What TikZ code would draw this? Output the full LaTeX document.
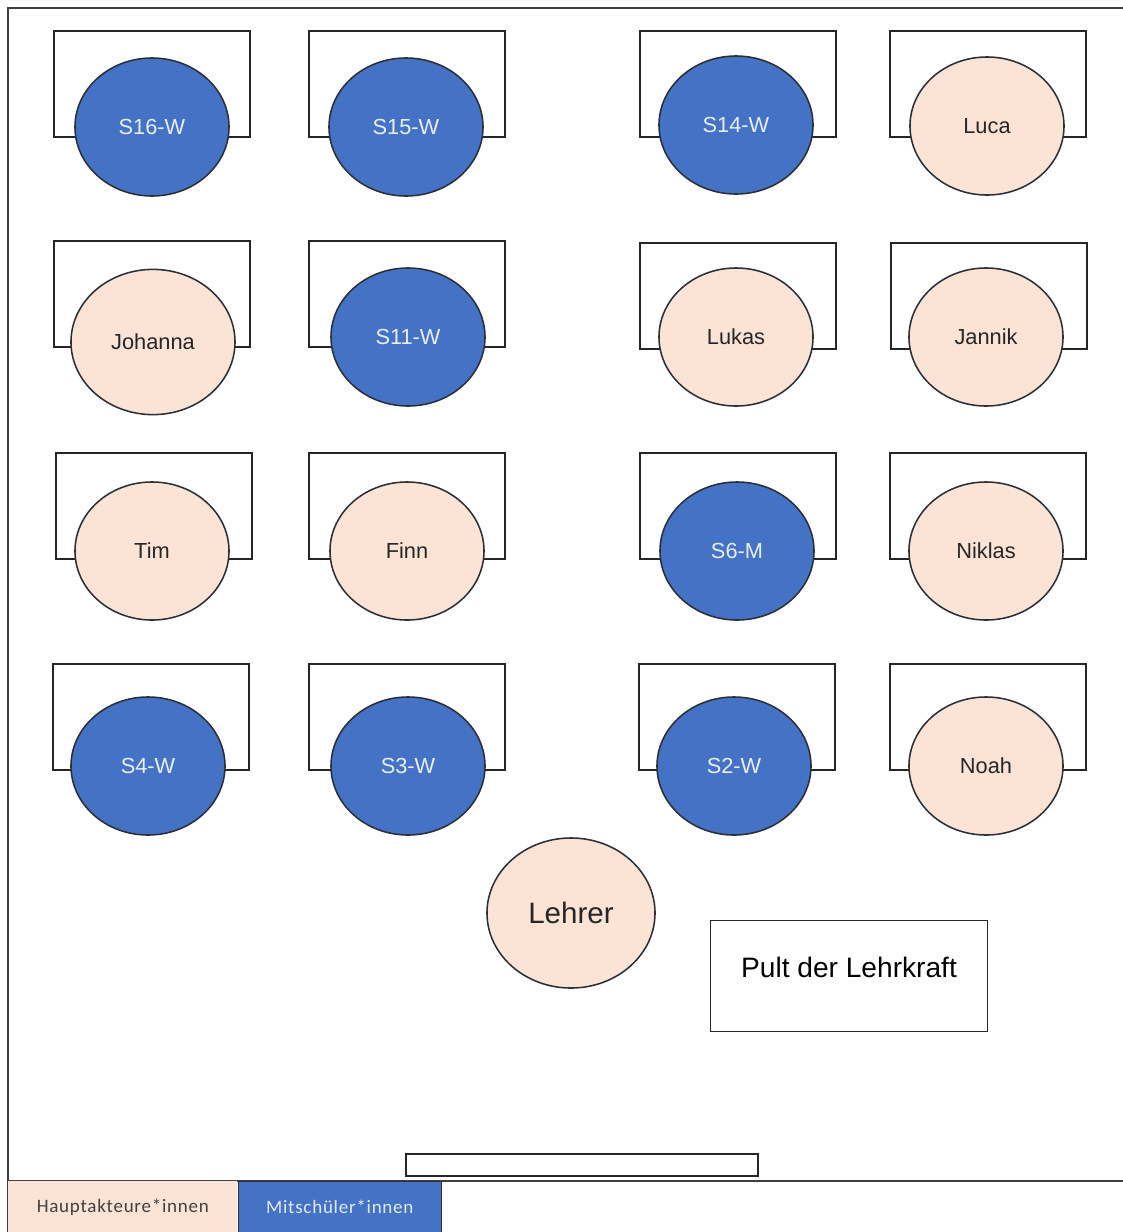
\documentclass[tikz,border=0pt]{standalone}
\usepackage{fontspec}
\setmainfont{Liberation Sans}
\newfontfamily\legendfont[LetterSpace=4]{Carlito}
\usetikzlibrary{shapes.geometric, positioning}
\definecolor{seatBlue}{HTML}{4472C4}
\definecolor{seatPeach}{HTML}{FBE3D6}
\definecolor{rimGray}{HTML}{2B2F38}

\begin{document}
\begin{tikzpicture}[x=0.025cm, y=-0.025cm,
    desk/.style={draw=black!85, line width=0.9pt, fill=white},
    seat/.style={ellipse, draw=rimGray, line width=1.1pt, inner sep=0pt,
        minimum width=3.85cm, minimum height=3.45cm,
        font=\fontsize{15.5}{18}\selectfont},
    lead/.style={seat, fill=seatPeach, text=black!85},
    mate/.style={seat, fill=seatBlue, text=white!88!seatBlue},
    legendbox/.style={rectangle, inner sep=0pt, minimum height=1.275cm,
        font=\legendfont\fontsize{13.5}{15}\selectfont}]
    \useasboundingbox (0,0) rectangle (1123,1232);

    % room
    \draw[line width=1.3pt, black!75] (1123,8) -- (8,8) -- (8,1232);
    \draw[line width=1.3pt, black!75] (8,1181) -- (1123,1181);

    % desks
    \foreach \dx/\dy in {54/31, 309/31, 640/31, 890/31,
                         54/241, 309/241, 640/243, 891/243,
                         56/453, 309/453, 640/453, 890/453,
                         53/664, 309/664, 639/664, 890/664}
        \draw[desk] (\dx,\dy) rectangle ++(196,106);

    % students
    \node[mate] (s16) at (152,127) {S16-W};
    \node[mate] (s15) at (406,127) {S15-W};
    \node[mate] (s14) at (736,125) {S14-W};
    \node[lead] (luca) at (987,126) {Luca};

    \node[lead, minimum width=4.1cm, minimum height=3.63cm] (johanna) at (153,342) {Johanna};
    \node[mate] (s11) at (408,337) {S11-W};
    \node[lead] (lukas) at (736,337) {Lukas};
    \node[lead] (jannik) at (986,337) {Jannik};

    \node[lead] (tim) at (152,551) {Tim};
    \node[lead] (finn) at (407,551) {Finn};
    \node[mate] (s6) at (737,551) {S6-M};
    \node[lead] (niklas) at (986,551) {Niklas};

    \node[mate] (s4) at (148,766) {S4-W};
    \node[mate] (s3) at (408,766) {S3-W};
    \node[mate] (s2) at (734,766) {S2-W};
    \node[lead] (noah) at (986,766) {Noah};

    % teacher
    \node[lead, minimum width=4.2cm, minimum height=3.75cm,
        font=\fontsize{21}{24}\selectfont] (lehrer) at (571,913) {Lehrer};
    \node[draw=black!85, line width=0.9pt, minimum width=6.925cm, minimum height=2.775cm,
        text depth=0.45cm, font=\fontsize{20}{23}\selectfont] (pult) at (849,976) {Pult der Lehrkraft};

    % board
    \draw[desk] (406,1154) rectangle (758,1176);

    % legend
    \node[legendbox, fill=seatPeach, text=black!75, minimum width=5.725cm,
        anchor=north west] (haupt) at (8,1181) {Hauptakteure*innen};
    \node[legendbox, fill=seatBlue, draw=rimGray, line width=0.9pt, text=white!85!seatBlue,
        minimum width=5.075cm, right=0pt of haupt] (mit) {Mitschüler*innen};
\end{tikzpicture}
\end{document}
